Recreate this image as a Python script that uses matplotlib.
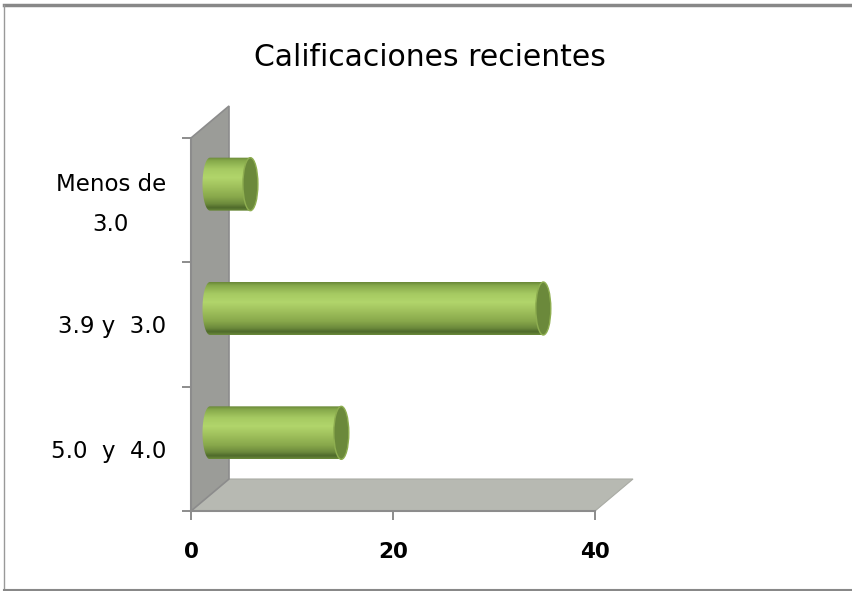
import matplotlib
matplotlib.use('Agg')
import matplotlib.pyplot as plt
import numpy as np
import matplotlib.transforms as mtransforms
from matplotlib.patches import Polygon, Ellipse, PathPatch
from matplotlib.path import Path
from matplotlib.lines import Line2D
from matplotlib.colors import LinearSegmentedColormap

# ---- data ----
categories = ["5.0  y  4.0", "3.9 y  3.0", "Menos de\n3.0"]
values = [13, 33, 4]
xticks = [0, 20, 40]
xticklabels = ["0", "20", "40"]
title = "Calificaciones recientes"

# ---- style ----
W, H = 853, 591
plt.rcParams['font.family'] = ['DejaVu Sans']
fig = plt.figure(figsize=(W / 100, H / 100), dpi=100)
fig.patch.set_facecolor('white')

ax_left, ax_right, ax_top, ax_bottom = 191, 595, 138, 511
ax = fig.add_axes([ax_left / W, 1 - ax_bottom / H,
                   (ax_right - ax_left) / W, (ax_bottom - ax_top) / H])
xmin, xmax = 0, 40
n = len(categories)
ymin, ymax = -0.5, n - 0.5

px_per_x = (ax_right - ax_left) / (xmax - xmin)
px_per_y = (ax_bottom - ax_top) / (ymax - ymin)
DX = 38 / px_per_x          # depth offset in data units
DY = 32 / px_per_y
bar_h = 53 / px_per_y
cap_w = 15 / px_per_x

grey_line = '#8c8c8c'

# back wall
wall = Polygon([(xmin, ymin), (xmin, ymax), (xmin + DX, ymax + DY), (xmin + DX, ymin + DY)],
               closed=True, facecolor='#9b9c98', edgecolor=grey_line, lw=1.2,
               zorder=0.5, clip_on=False)
ax.add_patch(wall)
# floor
floor = Polygon([(xmin, ymin), (xmax, ymin), (xmax + DX, ymin + DY), (xmin + DX, ymin + DY)],
                closed=True, facecolor='#b7b9b2', edgecolor='#a9aba4', lw=0.8,
                zorder=0.4, clip_on=False)
ax.add_patch(floor)

# cylinder gradient (top -> bottom)
cmap = LinearSegmentedColormap.from_list('cyl', [
    (0.00, '#6a8838'), (0.06, '#85a84a'), (0.22, '#a6ca62'), (0.38, '#b1d56b'),
    (0.55, '#9fc05c'), (0.74, '#88a84b'), (0.87, '#6c8a3c'), (0.94, '#4f6a2b'),
    (1.00, '#6a8a3a')])
grad = np.linspace(1, 0, 200).reshape(-1, 1)

for i, v in enumerate(values):
    c = i + DY / 2
    x0 = xmin + DX / 2
    x1 = v + DX / 2
    t = np.linspace(np.pi / 2, 3 * np.pi / 2, 40)
    ex = x0 + cap_w / 2 * np.cos(t)
    ey = c + bar_h / 2 * np.sin(t)
    verts = [(x1, c + bar_h / 2)] + list(zip(ex, ey)) + [(x1, c - bar_h / 2), (x1, c + bar_h / 2)]
    codes = [Path.MOVETO] + [Path.LINETO] * (len(verts) - 2) + [Path.CLOSEPOLY]
    body = PathPatch(Path(verts, codes), transform=ax.transData, facecolor='none', edgecolor='none')
    ax.add_patch(body)
    im = ax.imshow(grad, cmap=cmap, aspect='auto', interpolation='bilinear',
                   extent=(x0 - cap_w / 2, x1, c - bar_h / 2, c + bar_h / 2),
                   origin='lower', zorder=2, vmin=0, vmax=1)
    im.set_clip_path(body)
    cap = Ellipse((x1, c), cap_w, bar_h, facecolor='#6b893b', edgecolor='#8eae50',
                  lw=1.0, zorder=3)
    ax.add_patch(cap)

ax.set_xlim(xmin, xmax)
ax.set_ylim(ymin, ymax)

# spines
for s in ['top', 'right']:
    ax.spines[s].set_visible(False)
for s in ['left', 'bottom']:
    ax.spines[s].set_color(grey_line)
    ax.spines[s].set_linewidth(1.5)
    ax.spines[s].set_zorder(1)
ax.patch.set_alpha(0)

# ticks
ax.set_xticks(xticks)
ax.set_xticklabels(xticklabels, fontsize=15.5, fontweight='bold')
ax.tick_params(axis='x', length=6.5, width=1.4, color=grey_line, pad=16)

ax.set_yticks(np.arange(-0.5, n, 1.0))
ax.set_yticklabels([])
ax.tick_params(axis='y', which='major', length=6.5, width=1.4, color=grey_line)
ax.set_yticks(range(n), minor=True)
ax.set_yticklabels(categories, minor=True, fontsize=16.5)
ax.tick_params(axis='y', which='minor', length=0, pad=18)
for lab in ax.get_yticklabels(minor=True):
    lab.set_multialignment('center')
    lab.set_linespacing(1.95)
    if '\n' in lab.get_text():
        lab.set_transform(lab.get_transform() +
                          mtransforms.ScaledTranslation(0, 7 / 100, fig.dpi_scale_trans))

# title
fig.text(430 / W, 1 - 57 / H, title, ha='center', va='center', fontsize=21.5)

# chart frame
fig.add_artist(Line2D([4 / W, 1], [1 - 5 / H, 1 - 5 / H], transform=fig.transFigure,
                      color='#888888', lw=2.5))
fig.add_artist(Line2D([4.5 / W, 4.5 / W], [1 - 5 / H, 1 - 590 / H], transform=fig.transFigure,
                      color='#999999', lw=1))
fig.add_artist(Line2D([4 / W, 1], [1 - 590 / H, 1 - 590 / H], transform=fig.transFigure,
                      color='#888888', lw=1.5))

fig.savefig('out.png', dpi=100)
